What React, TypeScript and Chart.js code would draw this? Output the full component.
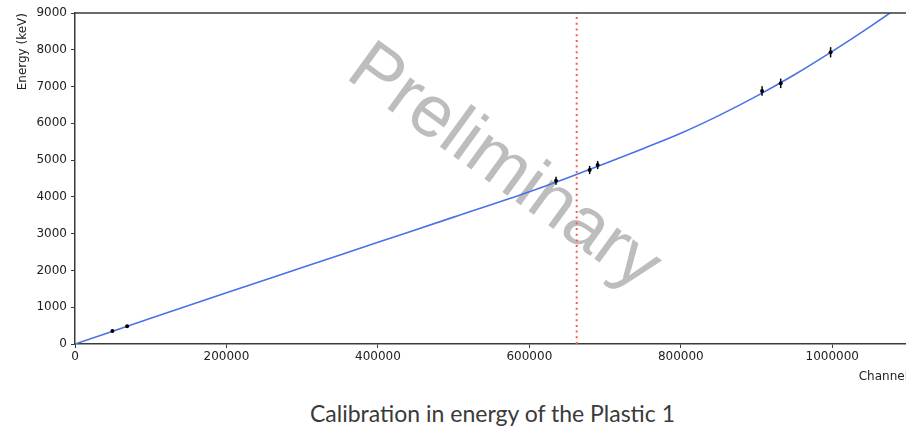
import React, { useEffect, useRef } from 'react';
import { Chart, registerables } from 'chart.js';

Chart.register(...registerables);

// ---- data ----
const xTickValues = [0, 200000, 400000, 600000, 800000, 1000000];
const yTickValues = [0, 1000, 2000, 3000, 4000, 5000, 6000, 7000, 8000, 9000];

const pointChannels = [49400, 68800, 635200, 679600, 690200, 907300, 931900, 997800];
const pointEnergies = [353, 481, 4440, 4731, 4867, 6879, 7088, 7931];
const pointErrors = [20, 25, 110, 110, 110, 130, 130, 140];

const curveChannels = [0, 100000, 200000, 300000, 400000, 500000, 600000, 650000, 700000, 750000, 800000, 850000, 900000, 950000, 1000000, 1050000, 1100000];
const curveEnergies = [0, 700, 1395, 2080, 2765, 3450, 4140, 4515, 4905, 5310, 5730, 6210, 6740, 7320, 7955, 8630, 9340];

const thresholdChannel = 662500;
const energyRange = [0, 9000];
const channelRange = [0, 1100000];

const watermarkText = 'Preliminary';
const watermarkAt = { x: 566000, y: 4785 };
const captionText = 'Calibration in energy of the Plastic 1';

const FONT = '"DejaVu Sans", "Liberation Sans", sans-serif';

export default function App() {
  const ref = useRef<HTMLCanvasElement | null>(null);

  useEffect(() => {
    const canvas = ref.current;
    if (!canvas) return;

    const errorBars = {
      id: 'errorBars',
      afterDatasetsDraw(chart: any) {
        const { ctx, scales } = chart;
        ctx.save();
        ctx.strokeStyle = '#000';
        ctx.lineWidth = 1.5;
        pointChannels.forEach((c, i) => {
          const x = scales.x.getPixelForValue(c);
          const y1 = scales.y.getPixelForValue(pointEnergies[i] - pointErrors[i]);
          const y2 = scales.y.getPixelForValue(pointEnergies[i] + pointErrors[i]);
          ctx.beginPath();
          ctx.moveTo(x, y1);
          ctx.lineTo(x, y2);
          ctx.stroke();
        });
        ctx.restore();
      },
    };

    const watermark = {
      id: 'watermark',
      beforeDatasetsDraw(chart: any) {
        const { ctx, scales } = chart;
        const cx = scales.x.getPixelForValue(watermarkAt.x);
        const cy = scales.y.getPixelForValue(watermarkAt.y);
        ctx.save();
        ctx.translate(cx, cy);
        ctx.rotate((36 * Math.PI) / 180);
        ctx.font = '73px "Liberation Sans", Arial, sans-serif';
        ctx.fillStyle = '#bdbdbd';
        ctx.textAlign = 'center';
        ctx.textBaseline = 'middle';
        ctx.fillText(watermarkText, 0, 0);
        ctx.restore();
      },
    };

    const topBorder = {
      id: 'topBorder',
      afterDraw(chart: any) {
        const { ctx, chartArea } = chart;
        ctx.save();
        ctx.strokeStyle = '#3a3a3a';
        ctx.lineWidth = 1.5;
        ctx.beginPath();
        ctx.moveTo(chartArea.left, chartArea.top);
        ctx.lineTo(chartArea.right, chartArea.top);
        ctx.stroke();
        ctx.restore();
      },
    };

    const chart = new Chart(canvas, {
      type: 'scatter',
      data: {
        datasets: [
          {
            label: 'points',
            data: pointChannels.map((c, i) => ({ x: c, y: pointEnergies[i] })),
            backgroundColor: '#000',
            borderColor: '#000',
            pointRadius: 2,
            pointBorderWidth: 0,
          },
          {
            label: 'threshold',
            data: energyRange.map((e) => ({ x: thresholdChannel, y: e })),
            showLine: true,
            borderColor: '#ff5a48',
            borderWidth: 2,
            borderDash: [2, 3.7],
            pointRadius: 0,
          },
          {
            label: 'fit',
            data: curveChannels.map((c, i) => ({ x: c, y: curveEnergies[i] })),
            showLine: true,
            borderColor: '#4a72e6',
            borderWidth: 1.6,
            pointRadius: 0,
            cubicInterpolationMode: 'monotone',
          },
        ],
      } as any,
      options: {
        animation: false,
        responsive: false,
        devicePixelRatio: 1,
        layout: { padding: { top: 13, right: 2, left: 0, bottom: 0 } },
        plugins: { legend: { display: false }, tooltip: { enabled: false } },
        scales: {
          x: {
            type: 'linear',
            min: channelRange[0],
            max: channelRange[1],
            afterBuildTicks: (scale: any) => {
              scale.ticks = xTickValues.map((v) => ({ value: v }));
            },
            afterFit: (scale: any) => {
              scale.height = 46;
            },
            ticks: {
              color: '#222',
              padding: 2,
              maxRotation: 0,
              autoSkip: false,
              font: { family: FONT, size: 12 },
              callback: (v: any) => String(v),
            },
            grid: { drawOnChartArea: false, drawTicks: true, tickLength: 4, color: '#3a3a3a' },
            border: { display: true, color: '#3a3a3a', width: 1.5 },
            title: {
              display: true,
              text: 'Channel',
              align: 'end',
              color: '#222',
              padding: { top: 0, bottom: 6 },
              font: { family: FONT, size: 12 },
            },
          },
          y: {
            type: 'linear',
            min: energyRange[0],
            max: energyRange[1],
            afterBuildTicks: (scale: any) => {
              scale.ticks = yTickValues.map((v) => ({ value: v }));
            },
            afterFit: (scale: any) => {
              scale.width = 75;
            },
            ticks: {
              color: '#222',
              padding: 4,
              autoSkip: false,
              font: { family: FONT, size: 12 },
              callback: (v: any) => String(v),
            },
            grid: { drawOnChartArea: false, drawTicks: true, tickLength: 4, color: '#3a3a3a' },
            border: { display: true, color: '#3a3a3a', width: 1.5 },
            title: {
              display: true,
              text: 'Energy (keV)',
              align: 'end',
              color: '#222',
              padding: { top: 16, bottom: 0 },
              font: { family: FONT, size: 12 },
            },
          },
        },
      } as any,
      plugins: [watermark, errorBars, topBorder],
    });

    return () => chart.destroy();
  }, []);

  return (
    <div
      style={{
        position: 'absolute',
        left: 0,
        top: 0,
        width: 906,
        height: 426,
        overflow: 'hidden',
        background: '#fff',
      }}
    >
      <canvas ref={ref} width={912} height={390} style={{ display: 'block', width: 912, height: 390 }} />
      <div
        style={{
          position: 'absolute',
          left: 310,
          top: 402,
          whiteSpace: 'nowrap',
          fontFamily: 'Lato, "Open Sans", sans-serif',
          fontSize: 23,
          lineHeight: '23px',
          color: '#3a3a3a',
        }}
      >
        {captionText}
      </div>
    </div>
  );
}
